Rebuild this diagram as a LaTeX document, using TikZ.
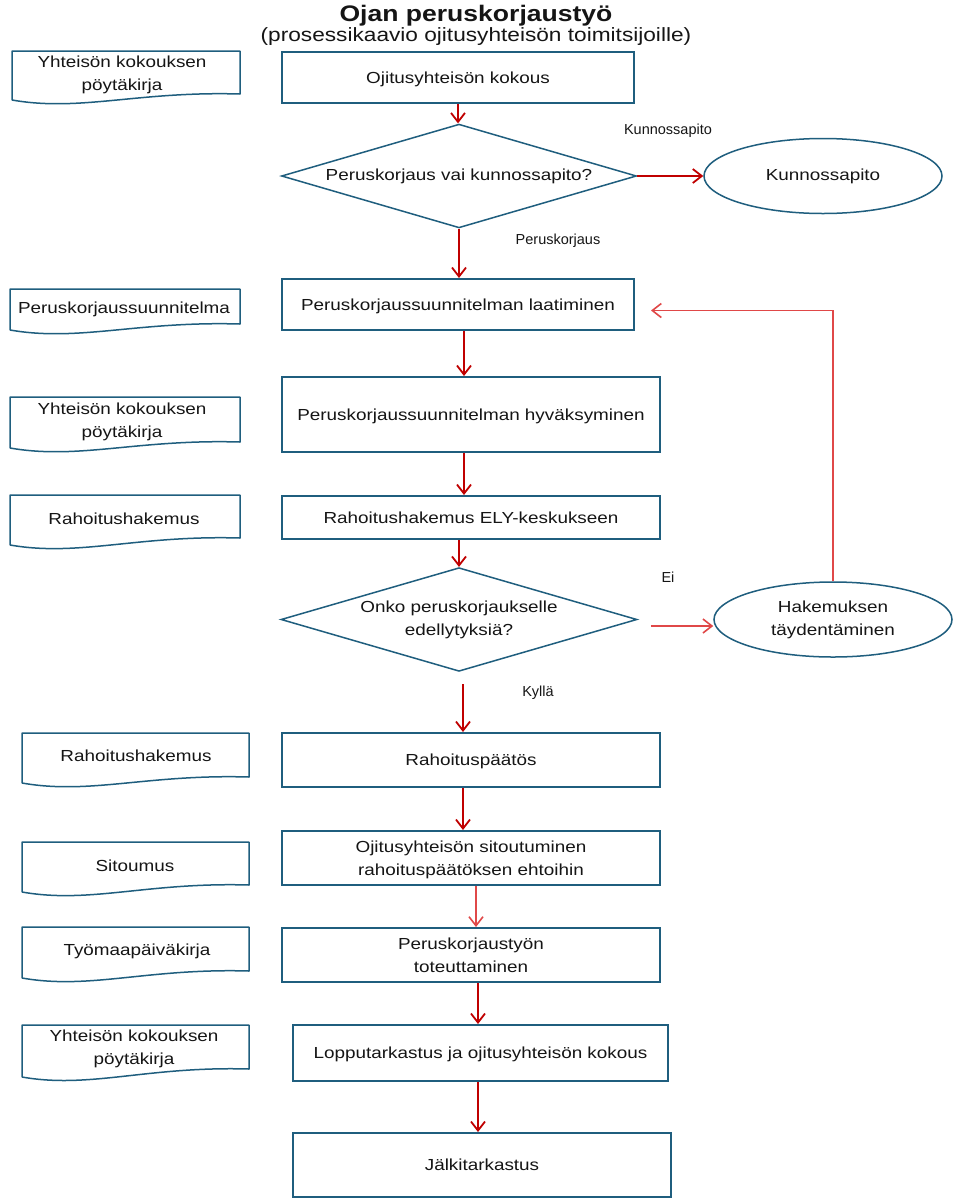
\documentclass[tikz,border=0pt]{standalone}
\usepackage{fontspec}
\setmainfont{Liberation Sans}[FakeStretch=1.18]
\newfontfamily\lblfont{Liberation Sans}
\usetikzlibrary{shapes.geometric,arrows.meta,calc}
\definecolor{boxc}{HTML}{1F5E7E}
\definecolor{arrc}{HTML}{C00000}
\definecolor{arrl}{HTML}{E04848}
\definecolor{txt}{HTML}{151515}
\tikzset{
  every node/.style={text=txt, font=\fontsize{16}{23}\selectfont, align=center},
  procbox/.style={draw=boxc, line width=2pt, rectangle, inner sep=0pt, text depth=-3pt},
  decbox/.style={draw=boxc, line width=1.5pt, diamond, inner sep=0pt, aspect=3},
  endbox/.style={draw=boxc, line width=1.5pt, ellipse, inner sep=0pt, minimum width=238pt, minimum height=75pt},
  docline/.style={draw=boxc, line width=1.5pt, line join=round},
  doctext/.style={inner sep=0pt},
  lbl/.style={font=\lblfont\fontsize{14.5}{17}\selectfont, inner sep=0pt},
  arr/.style={draw=arrc, line width=1.8pt, -{Straight Barb[length=9pt,width=14pt]}},
  arrlight/.style={draw=arrl, line width=1.6pt, -{Straight Barb[length=9pt,width=14pt]}}
}
% name, L, R, top, bottom-left, bottom-right, text x, text y, text
\newcommand\mydoc[9]{%
  \draw[docline] (#2,#5) -- (#2,#4) -- (#3,#4) -- (#3,#6)
     .. controls ({#2+0.55*(#3-#2)},{#6-3}) and ({#2+0.3*(#3-#2)},{#5+12}) .. (#2,#5);
  \node[doctext] (#1) at (#7,#8) {#9};
}
\begin{document}
\begin{tikzpicture}[x=1pt,y=-1pt]
\useasboundingbox (0,0) rectangle (960,1200);
\fill[white] (0,0) rectangle (960,1200);

% title
\node[anchor=base, font=\bfseries\fontsize{22.5}{26}\selectfont] (title) at (476,21) {Ojan peruskorjaustyö};
\node[anchor=base, font=\fontsize{19.2}{22}\selectfont] (subtitle) at (476,41) {(prosessikaavio ojitusyhteisön toimitsijoille)};

% documents
\mydoc{doc1}{12}{240}{51}{100}{94}{122}{75}{Yhteisön kokouksen\\pöytäkirja}
\mydoc{doc2}{10}{240}{289}{330}{324}{124}{309}{Peruskorjaussuunnitelma}
\mydoc{doc3}{10}{240}{397}{448}{442}{122}{422}{Yhteisön kokouksen\\pöytäkirja}
\mydoc{doc4}{10}{240}{495}{545}{538}{124}{519}{Rahoitushakemus}
\mydoc{doc5}{22}{249}{733}{783}{777}{136}{756}{Rahoitushakemus}
\mydoc{doc6}{22}{249}{842}{892}{885}{135}{866}{Sitoumus}
\mydoc{doc7}{22}{249}{927}{978}{971}{137}{951}{Työmaapäiväkirja}
\mydoc{doc8}{22}{249}{1025}{1077}{1069}{134}{1049}{Yhteisön kokouksen\\pöytäkirja}

% process
\node[procbox, minimum width=352pt, minimum height=51pt] (b1) at (458,77.5) {Ojitusyhteisön kokous};
\node[decbox, minimum width=355pt, minimum height=97pt] (d1) at (459,176) {Peruskorjaus vai kunnossapito?};
\node[endbox] (e1) at (823,176) {Kunnossapito};
\node[procbox, minimum width=352pt, minimum height=51pt] (b4) at (458,304.5) {Peruskorjaussuunnitelman laatiminen};
\node[procbox, minimum width=378pt, minimum height=75pt] (b5) at (471,414.5) {Peruskorjaussuunnitelman hyväksyminen};
\node[procbox, minimum width=378pt, minimum height=43pt] (b6) at (471,517.5) {Rahoitushakemus ELY-keskukseen};
\node[decbox, minimum width=356pt, minimum height=97pt] (d2) at (459,619.5) {Onko peruskorjaukselle\\edellytyksiä?};
\node[endbox] (e2) at (833,619.5) {Hakemuksen\\täydentäminen};
\node[procbox, minimum width=378pt, minimum height=54pt] (b9) at (471,760) {Rahoituspäätös};
\node[procbox, minimum width=378pt, minimum height=54pt] (b10) at (471,858) {Ojitusyhteisön sitoutuminen\\rahoituspäätöksen ehtoihin};
\node[procbox, minimum width=378pt, minimum height=54pt] (b11) at (471,955) {Peruskorjaustyön\\toteuttaminen};
\node[procbox, minimum width=375pt, minimum height=56pt] (b12) at (480.5,1053) {Lopputarkastus ja ojitusyhteisön kokous};
\node[procbox, minimum width=378pt, minimum height=64pt] (b13) at (482,1165) {Jälkitarkastus};

% labels
\node[lbl] (lk) at (668,131) {Kunnossapito};
\node[lbl] (lp) at (558,241) {Peruskorjaus};
\node[lbl] (le) at (668,577) {Ei};
\node[lbl] (ly) at (538,693) {Kyllä};

% connectors
\draw[arr] (b1.south) -- (b1.south |- d1.north);
\draw[arr] (d1.east) -- (d1.east -| e1.west);
\draw[arr] (d1.south) -- (d1.south |- b4.north);
\draw[arr] ([xshift=6pt]b4.south) -- ([xshift=6pt]b4.south |- b5.north);
\draw[arr] ([xshift=-7pt]b5.south) -- ([xshift=-7pt]b6.north);
\draw[arr] ([xshift=-12pt]b6.south) -- (d2.north);
\draw[arrlight] ([shift={(13pt,-6.5pt)}]d2.east) -- ([yshift=-6.5pt]e2.west);
\draw[arr] ([shift={(4pt,-12pt)}]d2.south) -- ([xshift=-8pt]b9.north);
\draw[arr] ([xshift=-8pt]b9.south) -- ([xshift=-8pt]b10.north);
\draw[arrlight] ([xshift=5pt]b10.south) -- ([xshift=5pt]b11.north);
\draw[arr] ([xshift=7pt]b11.south) -- ([xshift=-2.5pt]b12.north);
\draw[arr] ([xshift=-2.5pt]b12.south) -- ([xshift=-4pt]b13.north);
\draw[arrlight, shorten >=16pt] (e2.north) |- ([yshift=-6pt]b4.east);
\end{tikzpicture}
\end{document}
